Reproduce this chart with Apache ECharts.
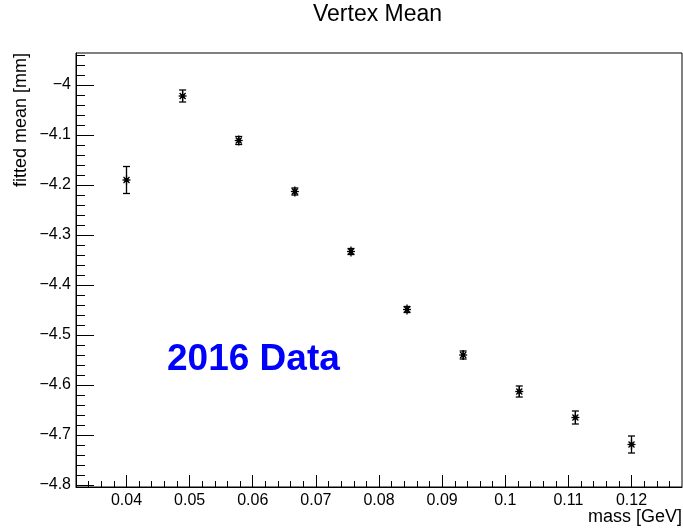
<!DOCTYPE html>
<html>
<head>
<meta charset="utf-8">
<script src="https://cdn.jsdelivr.net/npm/echarts@6/dist/echarts.min.js"></script>
<style>
  html, body { margin: 0; padding: 0; background: #fff; }
  #vertexMean { width: 683px; height: 529px; }
</style>
</head>
<body>
<div id="vertexMean"></div>
<script>
// data
var massValues = [0.04, 0.04889, 0.05778, 0.06667, 0.07556, 0.08444, 0.09333, 0.10222, 0.11111, 0.12];
var meanValues = [-4.190, -4.022, -4.111, -4.213, -4.333, -4.449, -4.540, -4.613, -4.665, -4.719];
var meanErrors = [0.027, 0.012, 0.008, 0.007, 0.006, 0.006, 0.008, 0.011, 0.013, 0.017];

// tick labels
var xMajorTicks = [0.04, 0.05, 0.06, 0.07, 0.08, 0.09, 0.1, 0.11, 0.12];
var yMajorTicks = [-4.8, -4.7, -4.6, -4.5, -4.4, -4.3, -4.2, -4.1, -4.0];

var xMin = 0.032, xMax = 0.128;
var yMin = -4.804, yMax = -3.936;

function minorTicks(from, to, step, majors) {
    var out = [];
    var n = Math.round((to - from) / step);
    for (var i = 0; i <= n; i++) {
        var v = Math.round((from + i * step) * 10000) / 10000;
        if (majors.indexOf(v) < 0) out.push(v);
    }
    return out;
}
var xMinorTicks = minorTicks(0.034, 0.126, 0.002, xMajorTicks);
var yMinorTicks = minorTicks(-4.78, -3.94, 0.02, yMajorTicks);

var font = 'Liberation Sans, Arial, sans-serif';

var points = [];
for (var i = 0; i < massValues.length; i++) {
    points.push([massValues[i], meanValues[i], meanErrors[i]]);
}

function renderPoint(params, api) {
    var x = api.value(0), y = api.value(1), e = api.value(2);
    var c = api.coord([x, y]);
    var lo = api.coord([x, y - e]);
    var hi = api.coord([x, y + e]);
    var s = 4, d = 3, cap = 3.5;
    var st = {stroke: '#000', lineWidth: 1.3};
    return {
        type: 'group',
        children: [
            {type: 'line', shape: {x1: c[0], y1: lo[1], x2: c[0], y2: hi[1]}, style: st},
            {type: 'line', shape: {x1: c[0] - cap, y1: lo[1], x2: c[0] + cap, y2: lo[1]}, style: st},
            {type: 'line', shape: {x1: c[0] - cap, y1: hi[1], x2: c[0] + cap, y2: hi[1]}, style: st},
            {type: 'line', shape: {x1: c[0] - s, y1: c[1], x2: c[0] + s, y2: c[1]}, style: st},
            {type: 'line', shape: {x1: c[0], y1: c[1] - s - 1, x2: c[0], y2: c[1] + s + 1}, style: st},
            {type: 'line', shape: {x1: c[0] - d, y1: c[1] - d, x2: c[0] + d, y2: c[1] + d}, style: st},
            {type: 'line', shape: {x1: c[0] - d, y1: c[1] + d, x2: c[0] + d, y2: c[1] - d}, style: st},
            {type: 'rect', shape: {x: c[0] - 2, y: c[1] - 2, width: 4, height: 4}, style: {fill: '#000'}}
        ]
    };
}

function minusFmt(v) {
    return (v < 0 ? '\u2212' : '') + Math.abs(v);
}

var chart = echarts.init(document.getElementById('vertexMean'));
var option = {
    backgroundColor: '#fff',
    animation: false,
    title: {
        text: 'Vertex Mean',
        left: 313,
        top: 3,
        padding: 0,
        textStyle: {fontFamily: font, fontSize: 23, fontWeight: 'normal', color: '#000'}
    },
    grid: {
        left: 76, right: 1, top: 53, bottom: 42,
        show: true, borderColor: '#000', borderWidth: 1, backgroundColor: '#fff'
    },
    xAxis: [
        {
            type: 'value', min: xMin, max: xMax, position: 'bottom',
            axisLine: {show: true, lineStyle: {color: '#000', width: 1}},
            axisTick: {show: true, inside: true, length: 12, customValues: xMajorTicks, lineStyle: {color: '#000'}},
            axisLabel: {customValues: xMajorTicks, margin: 6, color: '#000', fontFamily: font, fontSize: 16},
            splitLine: {show: false}
        },
        {
            type: 'value', min: xMin, max: xMax, position: 'bottom',
            axisLine: {show: false},
            axisTick: {show: true, inside: true, length: 6, customValues: xMinorTicks, lineStyle: {color: '#000'}},
            axisLabel: {show: false},
            splitLine: {show: false}
        }
    ],
    yAxis: [
        {
            type: 'value', min: yMin, max: yMax, position: 'left',
            axisLine: {show: true, lineStyle: {color: '#000', width: 1}},
            axisTick: {show: true, inside: true, length: 18, customValues: yMajorTicks, lineStyle: {color: '#000'}},
            axisLabel: {customValues: yMajorTicks, margin: 5, color: '#000', fontFamily: font, fontSize: 16, formatter: minusFmt},
            splitLine: {show: false}
        },
        {
            type: 'value', min: yMin, max: yMax, position: 'left',
            axisLine: {show: false},
            axisTick: {show: true, inside: true, length: 9, customValues: yMinorTicks, lineStyle: {color: '#000'}},
            axisLabel: {show: false},
            splitLine: {show: false}
        }
    ],
    graphic: [
        {
            type: 'text', x: 21, y: 53, rotation: Math.PI / 2,
            style: {text: 'fitted mean [mm]', fill: '#000', font: '18px ' + font, textAlign: 'right', textVerticalAlign: 'middle'}
        },
        {
            type: 'text', x: 682, y: 517,
            style: {text: 'mass [GeV]', fill: '#000', font: '18px ' + font, textAlign: 'right', textVerticalAlign: 'middle'}
        },
        {
            type: 'text', x: 167, y: 360,
            style: {text: '2016 Data', fill: '#0000ff', font: 'bold 37px ' + font, textAlign: 'left', textVerticalAlign: 'middle'}
        }
    ],
    series: [
        {
            name: 'vertex mean',
            type: 'custom',
            xAxisIndex: 0,
            yAxisIndex: 0,
            renderItem: renderPoint,
            encode: {x: 0, y: 1},
            data: points
        }
    ]
};
chart.setOption(option);
</script>
</body>
</html>
